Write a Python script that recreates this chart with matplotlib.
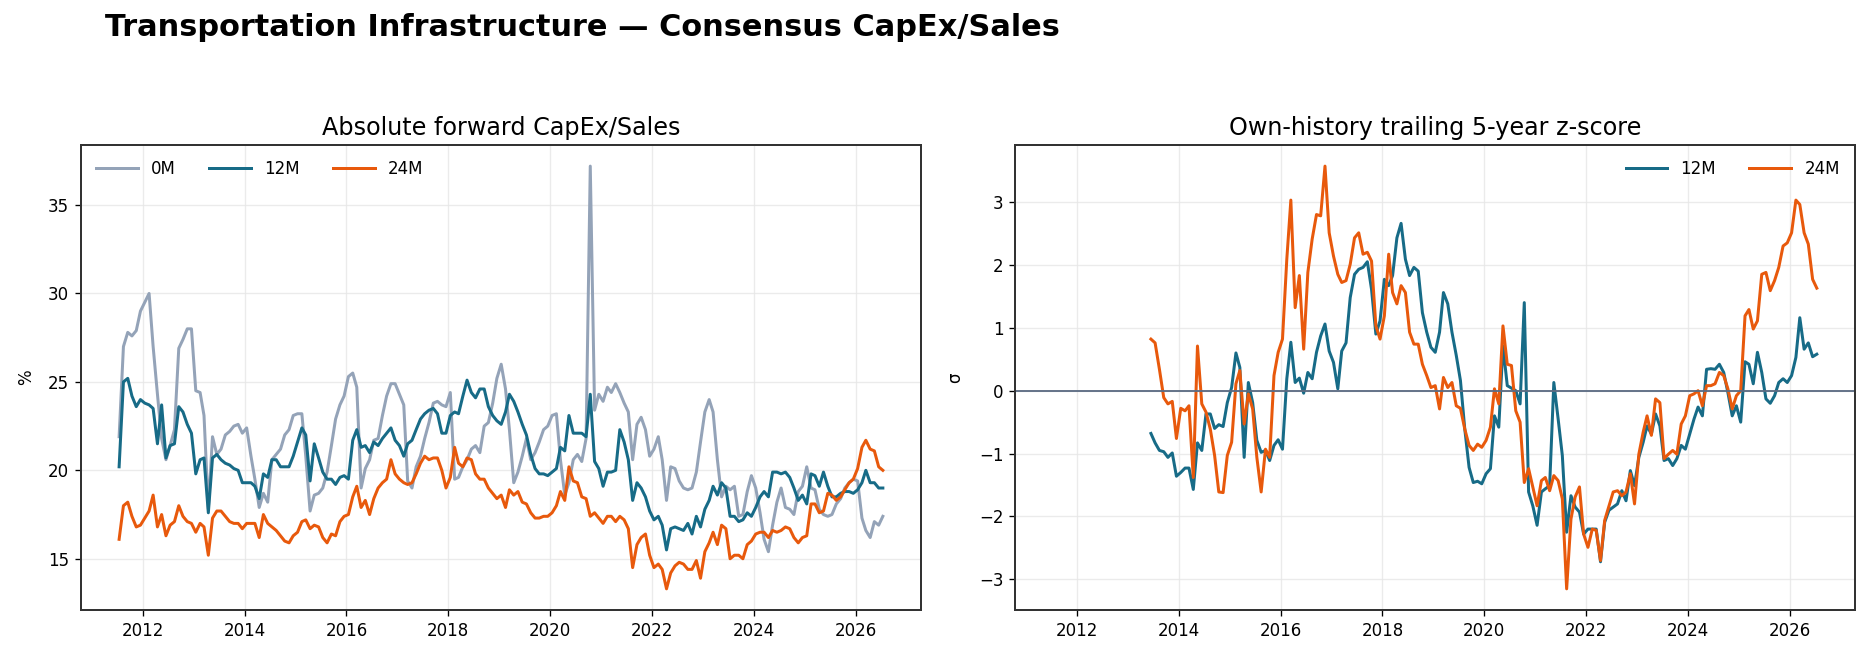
import matplotlib
matplotlib.use("Agg")
import matplotlib.pyplot as plt
import matplotlib.dates as mdates
import numpy as np
import pandas as pd

# monthly observations, mid-month, Jul 2011 .. Jul 2026
dates = pd.date_range("2011-07-01", periods=181, freq="MS") + pd.Timedelta(days=14)

capex_0m = [
    21.9, 27.0, 27.8, 27.6, 27.9, 29.0, 29.5, 30.0, 27.0, 24.3,
    21.8, 20.6, 21.4, 22.3, 26.9, 27.4, 28.0, 28.0, 24.5, 24.4,
    23.1, 17.8, 21.9, 20.9, 21.2, 22.0, 22.2, 22.5, 22.6, 22.1,
    22.4, 20.8, 19.5, 17.9, 18.7, 18.2, 20.6, 20.9, 21.2, 22.0,
    22.3, 23.1, 23.2, 23.2, 20.8, 17.7, 18.6, 18.7, 19.0, 19.9,
    21.4, 22.9, 23.7, 24.2, 25.3, 25.5, 24.7, 19.0, 20.1, 20.6,
    21.7, 21.8, 23.1, 24.2, 24.9, 24.9, 24.3, 23.7, 19.4, 19.0,
    20.2, 20.8, 21.8, 22.7, 23.8, 23.9, 23.7, 23.6, 24.4, 19.5,
    19.6, 20.2, 20.6, 21.2, 21.4, 21.0, 22.5, 22.7, 23.8, 25.2,
    26.0, 24.6, 22.3, 19.3, 19.9, 20.8, 21.8, 20.6, 21.0, 21.6,
    22.3, 22.5, 23.1, 23.2, 20.6, 18.6, 19.3, 20.6, 20.9, 20.5,
    21.8, 37.2, 23.4, 24.3, 23.9, 24.7, 24.4, 24.9, 24.4, 23.8,
    23.3, 20.6, 22.6, 23.0, 22.3, 20.8, 21.2, 21.9, 20.6, 18.3,
    20.2, 20.1, 19.4, 19.0, 18.9, 19.0, 19.9, 21.6, 23.3, 24.0,
    23.3, 20.6, 18.5, 19.1, 18.9, 19.1, 17.4, 17.5, 18.8, 19.7,
    19.0, 17.6, 16.1, 15.4, 16.9, 18.2, 19.0, 17.9, 17.8, 17.5,
    18.8, 19.1, 20.2, 19.0, 18.9, 17.8, 17.5, 17.4, 17.5, 18.1,
    18.4, 19.0, 19.3, 19.5, 19.4, 17.3, 16.6, 16.2, 17.1, 16.9, 17.4,
]

capex_12m = [
    20.2, 25.0, 25.2, 24.2, 23.6, 24.0, 23.8, 23.7, 23.5, 21.5,
    23.7, 20.7, 21.4, 21.5, 23.6, 23.3, 22.6, 22.1, 19.8, 20.6,
    20.7, 17.6, 20.7, 20.9, 20.6, 20.4, 20.3, 20.1, 20.0, 19.3,
    19.3, 19.3, 19.1, 18.4, 19.8, 19.6, 20.6, 20.6, 20.2, 20.2,
    20.2, 20.8, 21.6, 22.4, 22.0, 19.4, 21.5, 20.7, 19.9, 19.5,
    19.5, 19.2, 19.6, 19.7, 19.5, 21.7, 22.3, 21.3, 21.4, 21.0,
    21.6, 21.4, 21.8, 22.1, 22.4, 21.7, 21.4, 20.8, 21.5, 21.7,
    22.3, 22.9, 23.2, 23.4, 23.5, 23.2, 22.1, 22.1, 23.1, 23.3,
    23.2, 24.2, 25.1, 24.4, 24.1, 24.6, 24.6, 23.6, 23.1, 22.8,
    22.6, 23.3, 24.3, 23.9, 23.3, 22.6, 22.0, 20.9, 20.1, 19.8,
    19.8, 19.7, 19.9, 20.1, 21.3, 21.1, 23.1, 22.1, 22.1, 22.1,
    21.9, 24.3, 20.5, 20.1, 19.1, 19.9, 19.9, 20.0, 22.3, 21.6,
    20.6, 18.3, 19.3, 19.0, 18.5, 17.7, 17.2, 17.4, 16.9, 15.5,
    16.7, 16.8, 16.7, 16.6, 17.0, 16.4, 17.4, 16.8, 17.8, 18.3,
    19.1, 18.6, 19.3, 19.0, 17.4, 17.4, 17.1, 17.2, 17.6, 17.4,
    17.9, 18.5, 18.8, 18.5, 19.9, 19.9, 19.8, 19.9, 19.6, 19.0,
    18.3, 18.6, 18.1, 19.8, 19.7, 19.1, 19.9, 19.1, 18.5, 18.5,
    18.7, 18.8, 18.8, 18.7, 18.9, 19.3, 20.0, 19.3, 19.3, 19.0, 19.0,
]

capex_24m = [
    16.1, 18.0, 18.2, 17.4, 16.8, 16.9, 17.3, 17.7, 18.6, 16.8,
    17.5, 16.3, 16.9, 17.1, 18.0, 17.4, 17.1, 17.0, 16.5, 17.0,
    16.8, 15.2, 17.3, 17.7, 17.7, 17.4, 17.1, 17.0, 17.0, 16.7,
    17.0, 17.0, 17.0, 16.2, 17.5, 17.0, 16.8, 16.6, 16.3, 16.0,
    15.9, 16.3, 16.5, 17.1, 17.2, 16.7, 16.9, 16.8, 16.2, 15.9,
    16.4, 16.3, 17.1, 17.4, 17.5, 18.5, 19.1, 17.9, 18.3, 17.5,
    18.4, 19.0, 19.3, 19.5, 20.6, 19.8, 19.5, 19.3, 19.2, 19.3,
    19.8, 20.4, 20.8, 20.6, 20.7, 20.7, 20.0, 19.0, 19.6, 21.3,
    20.4, 20.2, 20.7, 20.6, 19.8, 19.5, 19.5, 19.0, 18.7, 18.4,
    18.6, 17.9, 18.9, 18.6, 18.8, 18.2, 18.1, 17.6, 17.3, 17.3,
    17.4, 17.4, 17.6, 18.0, 18.8, 18.3, 20.2, 19.4, 19.3, 18.5,
    18.4, 17.4, 17.6, 17.3, 17.0, 17.4, 17.4, 17.1, 17.4, 17.2,
    16.7, 14.5, 15.8, 16.2, 16.4, 15.2, 14.5, 14.7, 14.4, 13.3,
    14.2, 14.6, 14.8, 14.7, 14.4, 14.4, 14.9, 13.9, 15.4, 15.9,
    16.5, 15.8, 16.9, 16.7, 15.0, 15.2, 15.2, 15.0, 15.8, 16.0,
    16.4, 16.5, 16.5, 16.2, 16.6, 16.5, 16.6, 16.8, 16.7, 16.2,
    15.9, 16.2, 16.3, 18.1, 18.1, 17.6, 17.7, 18.7, 18.6, 18.3,
    18.5, 18.9, 19.3, 19.5, 20.1, 21.3, 21.7, 21.2, 21.1, 20.2, 20.0,
]

# z-scores need a warm-up window; they start at the 24th month
z_start = 23
z_12m = [
    -0.68, -0.83, -0.95, -0.97, -1.06, -0.99, -1.36,
    -1.30, -1.23, -1.23, -1.57, -0.83, -0.95, -0.37, -0.37, -0.60, -0.54,
    -0.57, -0.19, 0.05, 0.60, 0.37, -1.06, 0.13, -0.19, -0.79, -0.98,
    -0.95, -1.11, -0.87, -0.78, -0.93, 0.19, 0.77, 0.13, 0.20, -0.04,
    0.29, 0.19, 0.61, 0.87, 1.06, 0.63, 0.45, 0.03, 0.63, 0.76,
    1.48, 1.85, 1.93, 1.96, 2.05, 1.61, 0.90, 1.11, 1.77, 1.67,
    1.83, 2.43, 2.66, 2.09, 1.83, 1.96, 1.90, 1.24, 0.93, 0.69,
    0.61, 0.93, 1.56, 1.38, 0.93, 0.56, 0.16, -0.61, -1.22, -1.46,
    -1.44, -1.48, -1.32, -1.24, -0.40, -0.58, 0.71, 0.08, 0.04, 0.00,
    -0.21, 1.40, -1.61, -1.83, -2.14, -1.61, -1.56, -1.51, 0.13, -0.45,
    -1.03, -2.25, -1.67, -1.85, -1.93, -2.28, -2.20, -2.20, -2.20, -2.72,
    -2.09, -1.90, -1.85, -1.80, -1.59, -1.75, -1.27, -1.51, -1.06, -0.82,
    -0.56, -0.69, -0.37, -0.56, -1.11, -1.08, -1.19, -1.08, -0.87, -0.93,
    -0.69, -0.45, -0.26, -0.40, 0.34, 0.35, 0.34, 0.42, 0.29, -0.03,
    -0.40, -0.24, -0.50, 0.46, 0.42, 0.11, 0.61, 0.29, -0.13, -0.20,
    -0.08, 0.13, 0.19, 0.13, 0.24, 0.53, 1.16, 0.66, 0.76, 0.54, 0.58,
]
z_24m = [
    0.82, 0.76, 0.34, -0.11, -0.21, -0.17, -0.76,
    -0.28, -0.32, -0.24, -1.38, 0.71, -0.21, -0.34, -0.61, -1.03, -1.61,
    -1.62, -1.03, -0.82, 0.11, 0.32, -0.53, -0.05, -0.29, -1.06, -1.61,
    -0.93, -1.06, 0.24, 0.61, 0.82, 2.09, 3.03, 1.32, 1.83, 0.66,
    1.88, 2.41, 2.80, 2.78, 3.57, 2.51, 2.14, 1.85, 1.72, 1.75,
    2.01, 2.43, 2.51, 2.17, 2.20, 2.06, 1.03, 0.82, 1.19, 2.17,
    1.56, 1.38, 1.67, 1.56, 0.93, 0.74, 0.74, 0.42, 0.24, 0.05,
    0.08, -0.29, 0.21, 0.05, 0.13, -0.24, -0.28, -0.61, -0.87, -0.95,
    -0.85, -0.90, -0.79, -0.58, 0.03, -0.21, 1.03, 0.42, 0.40, -0.32,
    -0.50, -1.46, -1.24, -1.53, -1.83, -1.43, -1.38, -1.59, -1.35, -1.43,
    -1.72, -3.15, -2.04, -1.69, -1.53, -2.28, -2.49, -2.20, -2.22, -2.70,
    -2.06, -1.83, -1.61, -1.59, -1.67, -1.61, -1.32, -1.80, -1.01, -0.66,
    -0.40, -0.71, -0.13, -0.19, -1.08, -1.01, -0.95, -1.01, -0.53, -0.40,
    -0.08, -0.05, 0.00, -0.24, 0.08, 0.08, 0.11, 0.29, 0.24, 0.03,
    -0.29, -0.08, 0.00, 1.19, 1.29, 0.98, 1.11, 1.85, 1.88, 1.59,
    1.75, 1.96, 2.30, 2.35, 2.51, 3.03, 2.96, 2.51, 2.33, 1.77, 1.63,
]

C_0M = "#94a3b8"
C_12M = "#176b87"
C_24M = "#e8590c"

plt.rcParams["font.family"] = ["DejaVu Sans"]
plt.rcParams["axes.edgecolor"] = "#333333"

fig = plt.figure(figsize=(1869 / 120, 659 / 120), dpi=120)
ax1 = fig.add_axes([0.0433, 0.0744, 0.4495, 0.7056])
ax2 = fig.add_axes([0.5431, 0.0744, 0.4494, 0.7056])

ax1.plot(dates, capex_0m, color=C_0M, lw=1.8, label="0M")
ax1.plot(dates, capex_12m, color=C_12M, lw=1.8, label="12M")
ax1.plot(dates, capex_24m, color=C_24M, lw=1.8, label="24M")
ax1.set_title("Absolute forward CapEx/Sales", fontsize=14.3)
ax1.set_ylabel("%", fontsize=10, labelpad=8)
ax1.legend(loc="upper left", ncol=3, frameon=False, fontsize=10, handlelength=2.5)

zd = dates[z_start:]
ax2.plot(zd, z_12m, color=C_12M, lw=1.8, label="12M")
ax2.plot(zd, z_24m, color=C_24M, lw=1.8, label="24M")
ax2.axhline(0, color="#5b6b82", lw=1.1)
ax2.set_title("Own-history trailing 5-year z-score", fontsize=14.3)
ax2.set_ylabel("σ", fontsize=10, labelpad=9)
ax2.legend(loc="upper right", ncol=2, frameon=False, fontsize=10, handlelength=2.5)
ax2.set_xlim(ax1.get_xlim())

for ax in (ax1, ax2):
    ax.xaxis.set_major_locator(mdates.YearLocator(2))
    ax.xaxis.set_major_formatter(mdates.DateFormatter("%Y"))
    ax.grid(True, color="#e6e6e6", lw=0.8, alpha=0.8)
    ax.tick_params(labelsize=10)
    for s in ax.spines.values():
        s.set_linewidth(1.2)

fig.text(0.056, 0.959, "Transportation Infrastructure — Consensus CapEx/Sales",
         fontsize=18.2, fontweight="bold", va="center", ha="left")

fig.savefig("out.png", dpi=120)
plt.close(fig)
